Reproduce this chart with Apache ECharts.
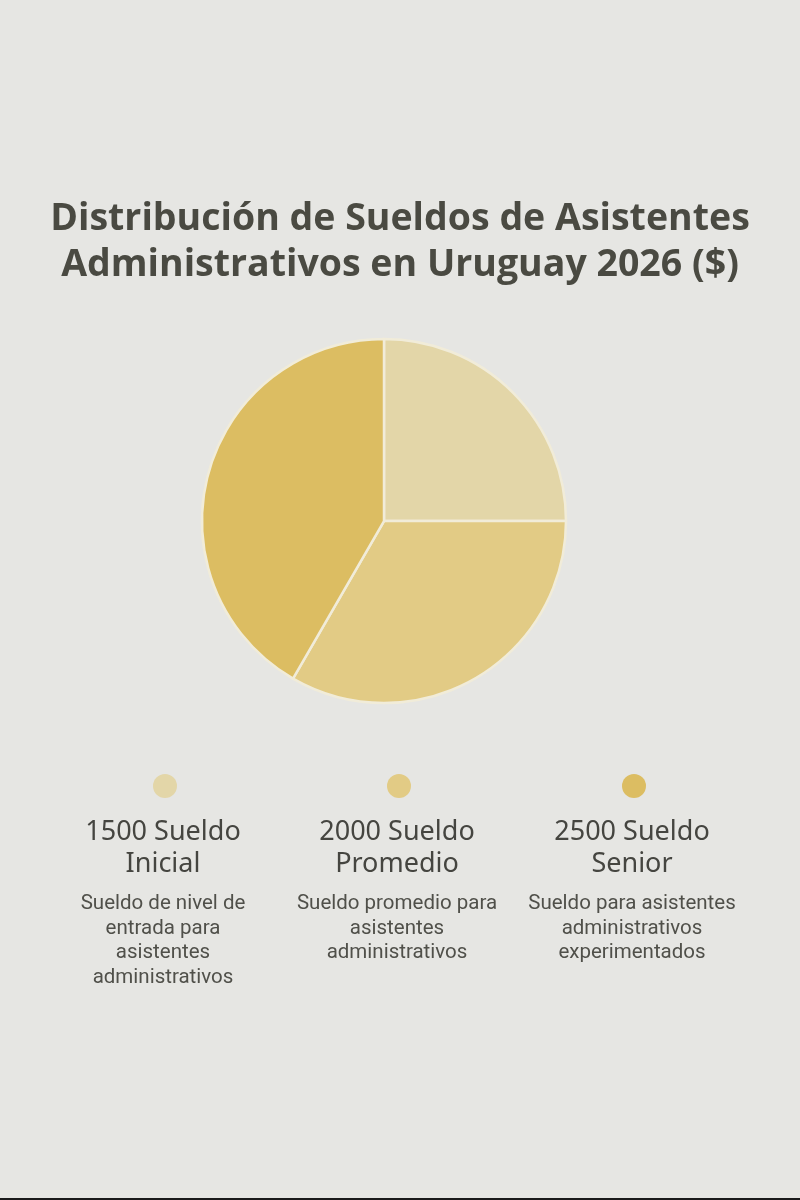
<!DOCTYPE html>
<html>
<head>
    <meta charset="utf-8">
    <title>Sueldos Uruguay</title>
    <script src="https://cdn.jsdelivr.net/npm/echarts@6/dist/echarts.min.js"></script>
    <style>
        html, body { margin: 0; padding: 0; background: #e6e6e3; }
    </style>
</head>
<body>
    <div id="main" style="width: 800px;height:1200px;"></div>
</body>
<script type="text/javascript">
    // datos
    var sueldos = [1500, 2000, 2500];
    var nombres = ['Sueldo Inicial', 'Sueldo Promedio', 'Sueldo Senior'];
    var etiquetas = ['1500 Sueldo\nInicial', '2000 Sueldo\nPromedio', '2500 Sueldo\nSenior'];
    var descripciones = [
        'Sueldo de nivel de\nentrada para\nasistentes\nadministrativos',
        'Sueldo promedio para\nasistentes\nadministrativos',
        'Sueldo para asistentes\nadministrativos\nexperimentados'
    ];
    var colores = ['#e3d6a8', '#e2cb85', '#dcbd62'];

    var colX = [163, 397, 632];
    var leyenda = [];
    sueldos.forEach(function(v, i) {
        leyenda.push({
            type: 'circle',
            shape: { cx: colX[i] + 2, cy: 786, r: 12 },
            style: { fill: colores[i] }
        });
        leyenda.push({
            type: 'text',
            x: colX[i], y: 816,
            style: {
                text: etiquetas[i],
                align: 'center', verticalAlign: 'top',
                font: '27px "Noto Sans"', lineHeight: 32,
                fill: '#454540'
            }
        });
        leyenda.push({
            type: 'text',
            x: colX[i], y: 892,
            style: {
                text: descripciones[i],
                align: 'center', verticalAlign: 'top',
                font: '20.5px Roboto', lineHeight: 24.5,
                fill: '#50504a'
            }
        });
    });
    leyenda.push({
        type: 'rect',
        shape: { x: 0, y: 1198, width: 800, height: 2 },
        style: { fill: '#1a1a1a' }
    });

    var chart = echarts.init(document.getElementById('main'));
    chart.setOption({
        backgroundColor: '#e6e6e3',
        animation: false,
        title: {
            text: 'Distribución de Sueldos de Asistentes\nAdministrativos en Uruguay 2026 ($)',
            left: 'center',
            top: 191,
            textStyle: {
                fontFamily: 'Open Sans',
                fontWeight: 'bold',
                fontSize: 37.5,
                lineHeight: 46,
                color: '#4a4a42'
            }
        },
        color: colores,
        series: [{
            type: 'pie',
            center: [384, 521],
            radius: 182,
            startAngle: 90,
            clockwise: true,
            label: { show: false },
            labelLine: { show: false },
            itemStyle: {
                borderColor: '#f1ecd9',
                borderWidth: 2.5
            },
            emphasis: { disabled: true },
            data: sueldos.map(function(v, i) {
                return { value: v, name: nombres[i] };
            })
        }],
        graphic: leyenda
    });
</script>
</html>
